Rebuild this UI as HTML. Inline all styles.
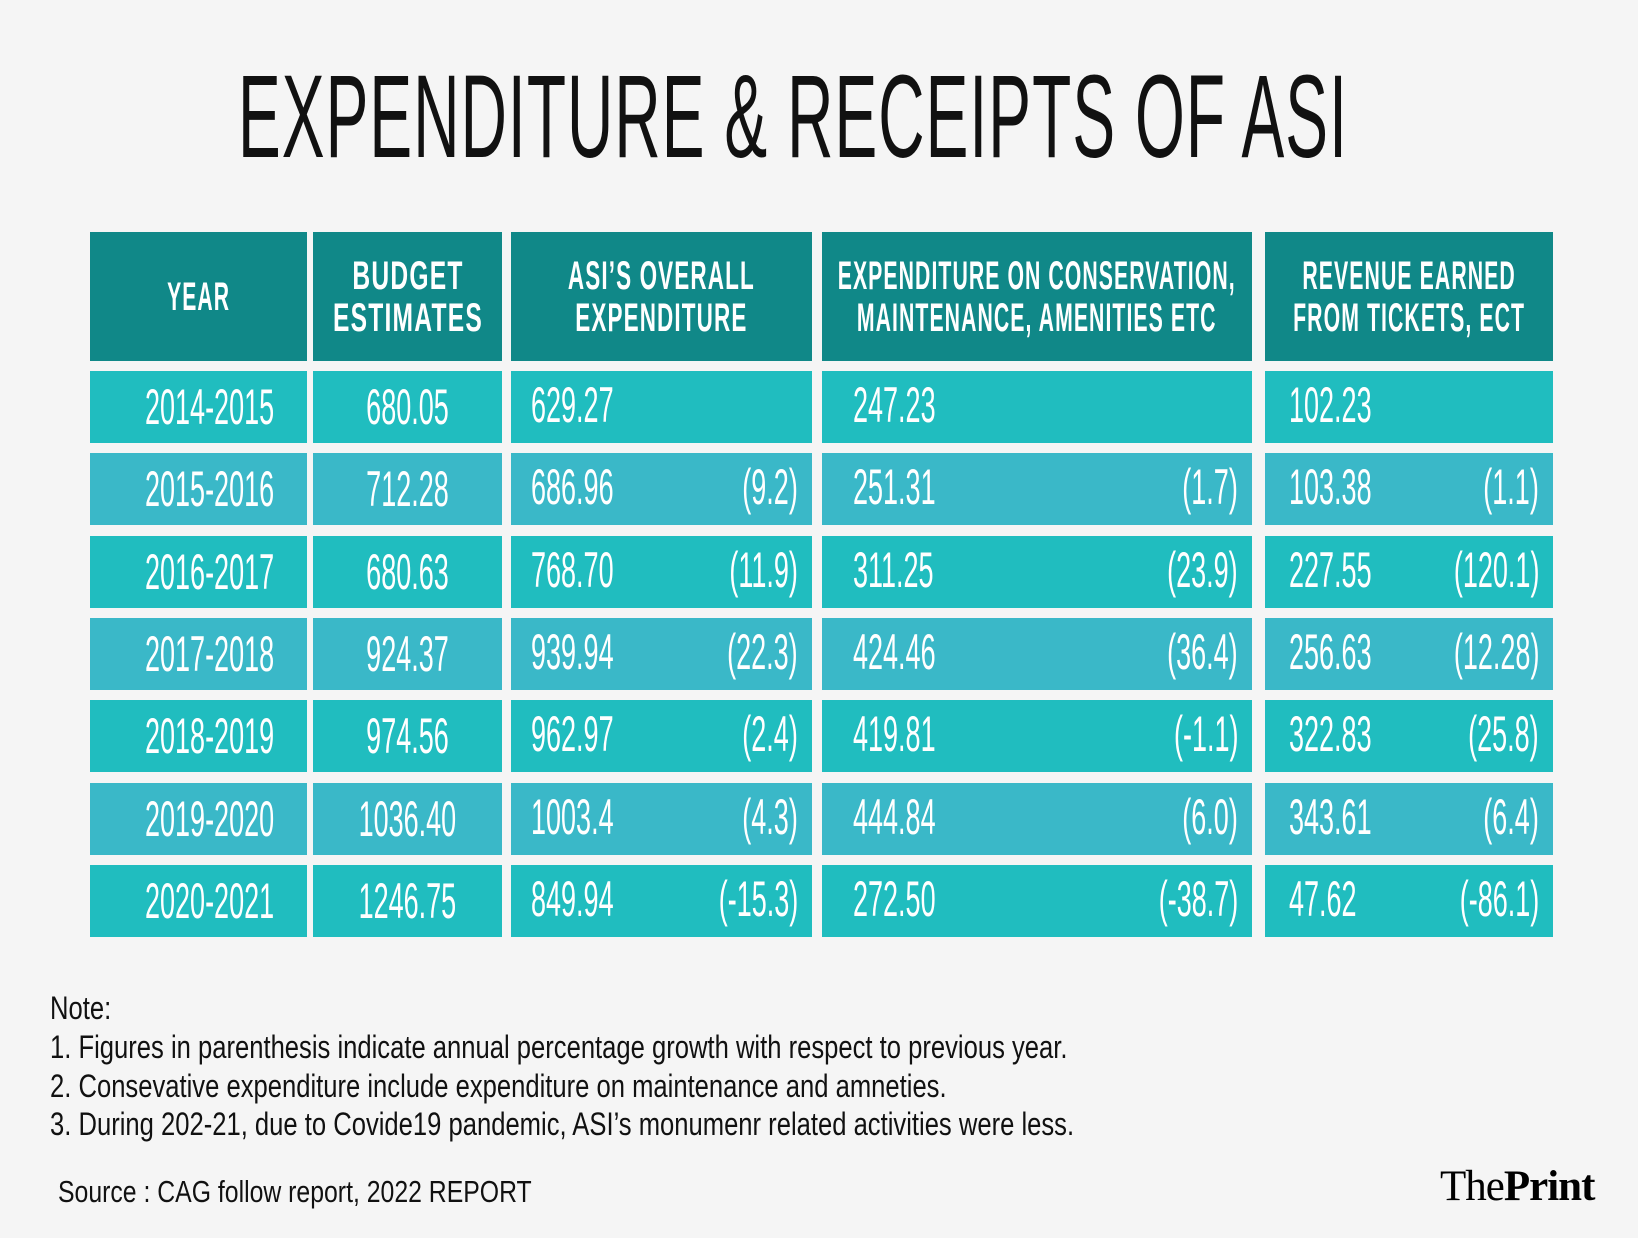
<!DOCTYPE html>
<html><head><meta charset="utf-8"><style>
body{margin:0;width:1638px;height:1238px;background:#f5f5f5;position:relative;overflow:hidden;font-family:"Liberation Sans",sans-serif;}
.a{position:absolute;white-space:nowrap;}
.t{display:inline-block;transform-origin:left center;white-space:nowrap;}
.cell{position:absolute;color:#fff;white-space:nowrap;}
.hd{display:flex;align-items:center;justify-content:center;text-align:center;font-size:40px;line-height:42px;letter-spacing:2px;font-weight:bold;}
.note{font-size:32px;color:#111;}
</style></head><body>
<div class="a" style="left:238px;top:52px;font-size:118px;line-height:130px;color:#111;"><span id="title" class="t" style="letter-spacing:2px;">EXPENDITURE &amp; RECEIPTS OF ASI</span></div>
<div id="tbl"></div>
<div class="a note" style="left:50px;top:990px;"><span class="t" style="transform:scaleX(0.8)">Note:</span></div>
<div class="a note" style="left:50px;top:1029px;"><span class="t" style="transform:scaleX(0.8)">1. Figures in parenthesis indicate annual percentage growth with respect to previous year.</span></div>
<div class="a note" style="left:50px;top:1068px;"><span class="t" style="transform:scaleX(0.8)">2. Consevative expenditure include expenditure on maintenance and amneties.</span></div>
<div class="a note" style="left:50px;top:1106px;"><span class="t" style="transform:scaleX(0.8)">3. During 202-21, due to Covide19 pandemic, ASI’s monumenr related activities were less.</span></div>
<div class="a" style="left:58px;top:1174px;font-size:31px;color:#111;"><span class="t" style="transform:scaleX(0.8)">Source : CAG follow report, 2022 REPORT</span></div>
<div class="a" style="left:1440px;top:1162px;font-family:'Liberation Serif',serif;font-size:43px;color:#000;letter-spacing:-1px;">The<b>Print</b></div>
<script>
const years=["2014-2015","2015-2016","2016-2017","2017-2018","2018-2019","2019-2020","2020-2021"];
const budget=["680.05","712.28","680.63","924.37","974.56","1036.40","1246.75"];
const overall=["629.27","686.96","768.70","939.94","962.97","1003.4","849.94"];
const overallG=["","(9.2)","(11.9)","(22.3)","(2.4)","(4.3)","(-15.3)"];
const cons=["247.23","251.31","311.25","424.46","419.81","444.84","272.50"];
const consG=["","(1.7)","(23.9)","(36.4)","(-1.1)","(6.0)","(-38.7)"];
const rev=["102.23","103.38","227.55","256.63","322.83","343.61","47.62"];
const revG=["","(1.1)","(120.1)","(12.28)","(25.8)","(6.4)","(-86.1)"];
const headers=["YEAR","BUDGET<br>ESTIMATES","ASI’S OVERALL<br>EXPENDITURE","EXPENDITURE ON CONSERVATION,<br>MAINTENANCE, AMENITIES ETC","REVENUE EARNED<br>FROM TICKETS, ECT"];
const headerW=[63,150,187,398,232];
const cols=[[90,307],[313,502],[511,812],[822,1252],[1265,1553]];
const ti=document.getElementById('title');
ti.style.transform='scaleX('+(1110/ti.getBoundingClientRect().width)+')';
const tbl=document.getElementById('tbl');
function div(cls,css,html){const d=document.createElement('div');d.className=cls;d.style.cssText=css;d.innerHTML=html;tbl.appendChild(d);return d;}
headers.forEach((h,i)=>{
 const d=div('cell hd',`left:${cols[i][0]}px;width:${cols[i][1]-cols[i][0]}px;top:232px;height:129px;background:#108888;`,`<span style="display:inline-block;">${h}</span>`);
 
 
 const s=d.firstChild;s.style.transform='scaleX('+(headerW[i]/s.getBoundingClientRect().width)+')';
});
const rowTop=371,pitch=82.3,rh=72;
years.forEach((y,r)=>{
 const top=rowTop+r*pitch;const bg=r%2?'#3ab8c8':'#20bdbf';
 cols.forEach((c,i)=>{
  const b=div('cell',`left:${c[0]}px;width:${c[1]-c[0]}px;top:${top}px;height:${rh}px;background:${bg};`,'');
  
  
 });
 const fs='font-size:50px;line-height:'+rh+'px;';
 const sc='scaleX(0.54)';
 const vals=[[years[r],'c'],[budget[r],'c'],[overall[r],20,overallG[r]],[cons[r],31,consG[r]],[rev[r],24,revG[r]]];
 vals.forEach((v,i)=>{
  const c=cols[i];
  if(v[1]==='c'){
   const d=div('cell',`left:${c[0]}px;width:${c[1]-c[0]}px;top:${top}px;${fs}text-align:center;`,`<span style="display:inline-block;transform:${sc}">${v[0]}</span>`);
   
   
  }else{
   const d=div('cell',`left:${c[0]+v[1]}px;top:${top-2}px;${fs}`,`<span class="t" style="transform:${sc}">${v[0]}</span>`);
   
   
   if(v[2]){
    const g=div('cell',`right:${1638-c[1]+14}px;top:${top-2}px;${fs}`,`<span class="t" style="transform:${sc};transform-origin:right center">${v[2]}</span>`);
    
    
   }
  }
 });
});
</script>
</body></html>
